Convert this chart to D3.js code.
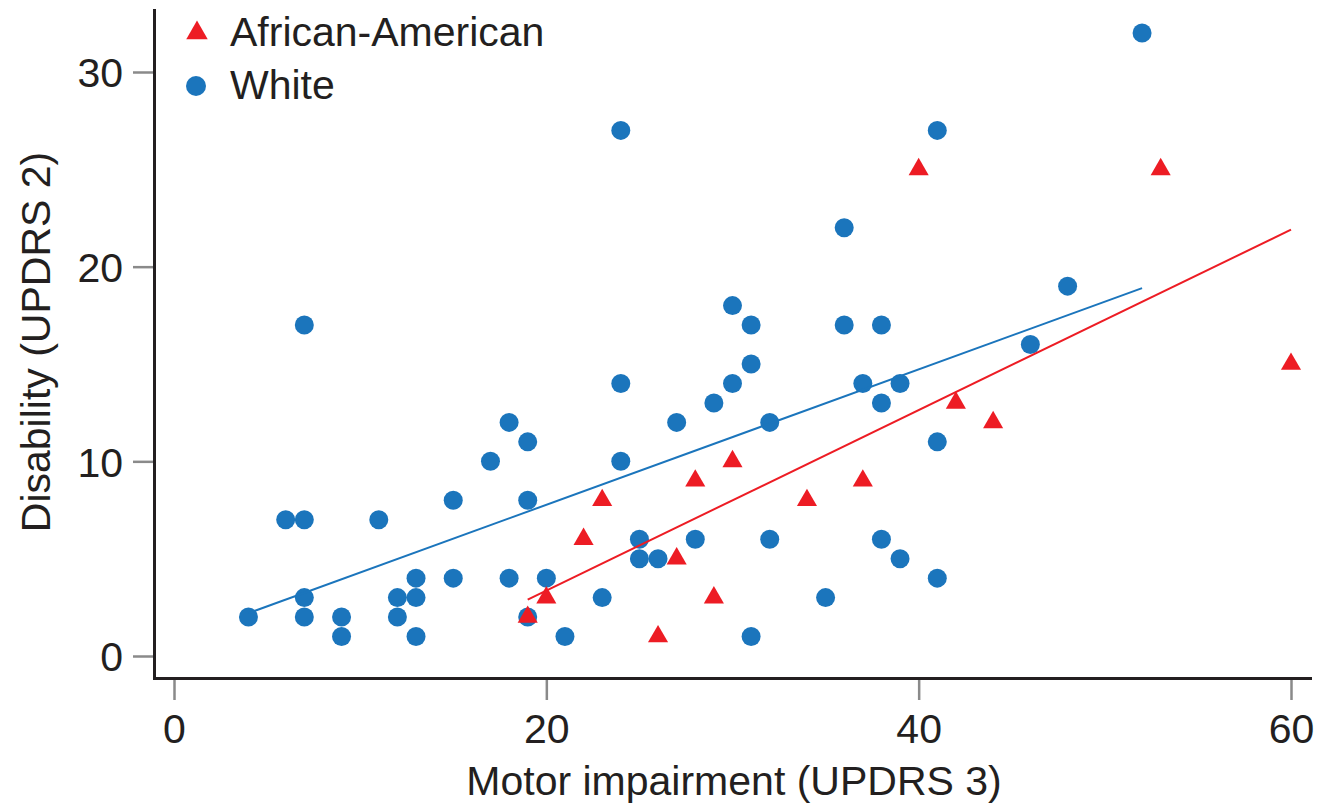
<!DOCTYPE html>
<html>
<head>
<meta charset="utf-8">
<script src="https://cdn.jsdelivr.net/npm/d3@7"></script>
<style>
  body { margin: 0; background: #fff; }
  svg text { font-family: "Liberation Sans", Arial, sans-serif; fill: #231f20; }
</style>
</head>
<body>
<svg id="chart" width="1317" height="805"></svg>
<script>
// White patients: [motor impairment, disability]
const whiteX = [4, 6, 7, 7, 7, 7, 9, 9, 11, 12, 12, 13, 13, 13, 15, 15, 17, 18, 18, 19,
    19, 19, 20, 21, 23, 24, 24, 24, 25, 25, 26, 27, 28, 29, 30, 30, 31, 31, 31, 32,
    32, 35, 36, 36, 37, 38, 38, 38, 39, 39, 41, 41, 41, 46, 48, 52];
const whiteY = [2, 7, 7, 17, 3, 2, 2, 1, 7, 3, 2, 4, 3, 1, 8, 4, 10, 12, 4, 11,
    8, 2, 4, 1, 3, 27, 14, 10, 6, 5, 5, 12, 6, 13, 18, 14, 17, 15, 1, 12,
    6, 3, 22, 17, 14, 17, 13, 6, 14, 5, 27, 11, 4, 16, 19, 32];

// African-American patients
const aaX = [19, 20, 22, 23, 26, 27, 28, 29, 30, 34, 37, 40, 42, 44, 53, 60];
const aaY = [2, 3, 6, 8, 1, 5, 9, 3, 10, 8, 9, 25, 13, 12, 25, 15];

// fitted lines, endpoints
const whiteFit = [[4, 2.2], [52, 18.9]];
const aaFit = [[19, 2.9], [60, 21.9]];

const xTicks = [0, 20, 40, 60];
const yTicks = [0, 10, 20, 30];

const blue = "#1b75bc", red = "#ed1c24";

const svg = d3.select("#chart");

const x = d3.scaleLinear().domain([0, 60]).range([174, 1291]);
const y = d3.scaleLinear().domain([0, 30]).range([656, 72]);

// x axis (offset below the frame)
const xAxis = svg.append("g")
    .attr("transform", "translate(0,679)")
    .call(d3.axisBottom(x).tickValues(xTicks).tickSize(21).tickPadding(14));
xAxis.select(".domain").remove();
xAxis.selectAll("line").attr("stroke", "#8a8a8a").attr("stroke-width", 2.5);
xAxis.selectAll("text").attr("font-size", 41).attr("dy", "0.71em");

// y axis (offset left of the frame)
const yAxis = svg.append("g")
    .attr("transform", "translate(154,0)")
    .call(d3.axisLeft(y).tickValues(yTicks).tickSize(21).tickPadding(10));
yAxis.select(".domain").remove();
yAxis.selectAll("line").attr("stroke", "#8a8a8a").attr("stroke-width", 2.5);
yAxis.selectAll("text").attr("font-size", 41).attr("dy", "0.36em");

// L-shaped frame
svg.append("path")
    .attr("d", "M154.5,9V678.5H1312")
    .attr("fill", "none")
    .attr("stroke", "#231f20")
    .attr("stroke-width", 3);

// axis titles
svg.append("text")
    .attr("x", 734).attr("y", 795)
    .attr("text-anchor", "middle")
    .attr("font-size", 41)
    .text("Motor impairment (UPDRS 3)");

svg.append("text")
    .attr("transform", "translate(50,342) rotate(-90)")
    .attr("text-anchor", "middle")
    .attr("font-size", 41)
    .text("Disability (UPDRS 2)");

// white points
svg.append("g")
    .selectAll("circle")
    .data(whiteX.map((d, i) => [d, whiteY[i]]))
    .enter().append("circle")
    .attr("cx", d => x(d[0]))
    .attr("cy", d => y(d[1]))
    .attr("r", 9.5)
    .attr("fill", blue);

// regression lines
const line = d3.line().x(d => x(d[0])).y(d => y(d[1]));
svg.append("path").attr("d", line(whiteFit))
    .attr("fill", "none").attr("stroke", blue).attr("stroke-width", 2);
svg.append("path").attr("d", line(aaFit))
    .attr("fill", "none").attr("stroke", red).attr("stroke-width", 2);

// african-american points
const tri = d3.symbol().type(d3.symbolTriangle).size(175);
svg.append("g")
    .selectAll("path")
    .data(aaX.map((d, i) => [d, aaY[i]]))
    .enter().append("path")
    .attr("d", tri)
    .attr("transform", d => `translate(${x(d[0])},${y(d[1])})`)
    .attr("fill", red);

// legend
const legend = svg.append("g");
legend.append("path")
    .attr("d", d3.symbol().type(d3.symbolTriangle).size(200)())
    .attr("transform", "translate(197,33)")
    .attr("fill", red);
legend.append("text").attr("x", 230).attr("y", 46)
    .attr("font-size", 41).text("African-American");
legend.append("circle").attr("cx", 196).attr("cy", 86).attr("r", 10)
    .attr("fill", blue);
legend.append("text").attr("x", 230).attr("y", 99)
    .attr("font-size", 41).text("White");
</script>
</body>
</html>
